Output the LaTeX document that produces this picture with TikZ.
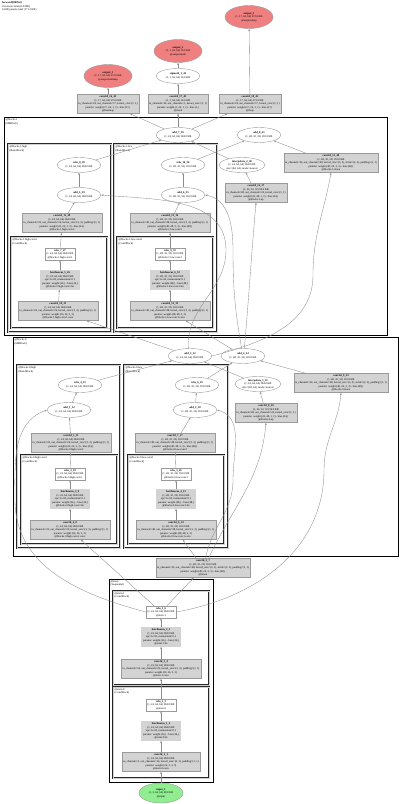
\documentclass[tikz,border=0pt]{standalone}
\usepackage{fontspec}
\setmainfont{Liberation Serif}
\usetikzlibrary{shapes.geometric, arrows.meta}

\newcommand{\netfont}{\fontsize{2.75}{3.45}\selectfont}

\begin{document}
\begin{tikzpicture}[x=1pt, y=1pt,
    every node/.style={font=\netfont, align=center},
    layer/.style={rectangle, draw=boxLine, fill=layerFill, inner sep=1.4pt},
    actbox/.style={rectangle, draw=boxLine, fill=white, inner sep=1.4pt},
    normbox/.style={rectangle, draw=boxLine, fill=layerFill, double=layerFill, double distance=.7pt, inner sep=1.4pt},
    tensor/.style={ellipse, draw=boxLine, fill=white, inner sep=.6pt, minimum width=44pt, minimum height=15pt},
    outtensor/.style={tensor, fill=outRed, minimum width=48pt, minimum height=23pt},
    intensor/.style={tensor, fill=inGreen, minimum height=20pt},
    flow/.style={draw=edgeGray, line width=.35pt, -{Stealth[length=2.4pt,width=1.7pt]}},
    stagebox/.style={draw=black, line width=.9pt},
    branchbox/.style={draw=black!85, double=gray!35, double distance=.45pt, line width=.35pt},
    clusterlabel/.style={anchor=north west, align=left, inner sep=0}]

    % Define colours
    \definecolor{layerFill}{HTML}{D3D3D3}
    \definecolor{boxLine}{HTML}{9A9A9A}
    \definecolor{edgeGray}{HTML}{8C8C8C}
    \definecolor{outRed}{HTML}{F08080}
    \definecolor{inGreen}{HTML}{90EE90}

    \useasboundingbox (0,0) rectangle (400,-804);

    % Header
    \node[clusterlabel] (header) at (2,-1.5) {\textbf{forward(HRNet)}\\45 tensors total (8.4 MB)\\43.8K params total (171.2 KB)};

    % Clusters
    \draw[stagebox] (4,-117) rectangle (387,-335);
    \draw[branchbox] (8,-144) rectangle (111,-332);
    \draw[branchbox] (11,-237) rectangle (107,-328);
    \draw[branchbox] (114,-144) rectangle (217,-332);
    \draw[branchbox] (117,-237) rectangle (213,-328);
    \draw[stagebox] (13,-337) rectangle (398,-556);
    \draw[branchbox] (17,-365) rectangle (120,-548);
    \draw[branchbox] (21,-455) rectangle (117,-544);
    \draw[branchbox] (124,-365) rectangle (228,-548);
    \draw[branchbox] (128,-455) rectangle (224,-544);
    \draw[stagebox] (109,-579) rectangle (213,-782);
    \draw[branchbox] (113,-591) rectangle (209,-685);
    \draw[branchbox] (113,-687) rectangle (209,-778);

    \node[clusterlabel] (lblB1) at (5.5,-118.5) {@blocks.1\\(HRBlock)};
    \node[clusterlabel] (lblB1high) at (9.5,-145.5) {@blocks.1.high\\(BasicBlock)};
    \node[clusterlabel] (lblB1highc) at (12.5,-238.5) {@blocks.1.high.conv1\\(ConvBlock)};
    \node[clusterlabel] (lblB1low) at (115.5,-145.5) {@blocks.1.low\\(BasicBlock)};
    \node[clusterlabel] (lblB1lowc) at (118.5,-238.5) {@blocks.1.low.conv1\\(ConvBlock)};
    \node[clusterlabel] (lblB0) at (14.5,-338.5) {@blocks.0\\(HRBlock)};
    \node[clusterlabel] (lblB0high) at (18.5,-366.5) {@blocks.0.high\\(BasicBlock)};
    \node[clusterlabel] (lblB0highc) at (22.5,-456.5) {@blocks.0.high.conv1\\(ConvBlock)};
    \node[clusterlabel] (lblB0low) at (125.5,-366.5) {@blocks.0.low\\(BasicBlock)};
    \node[clusterlabel] (lblB0lowc) at (129.5,-456.5) {@blocks.0.low.conv1\\(ConvBlock)};
    \node[clusterlabel] (lblStem) at (110.5,-580.5) {@stem\\(Sequential)};
    \node[clusterlabel] (lblStemOne) at (114.5,-592.5) {@stem.1\\(ConvBlock)};
    \node[clusterlabel] (lblStemZero) at (114.5,-688.5) {@stem.0\\(ConvBlock)};

    % Heads
    \node[outtensor] (out3) at (249,-17) {\textbf{output\_3}\\(1, 17, 64, 64) 272.0 KB\\@output.deep};
    \node[outtensor] (out2) at (178,-51) {\textbf{output\_2}\\(1, 1, 64, 64) 16.0 KB\\@output.mask};
    \node[tensor] (sig1) at (178,-76) {\textbf{sigmoid\_1\_44}\\(1, 1, 64, 64) 16.0 KB};
    \node[outtensor] (out1) at (108,-76) {\textbf{output\_1}\\(1, 17, 64, 64) 272.0 KB\\@output.heatmap};
    \node[layer] (conv16) at (108,-104) {\textbf{conv2d\_16\_42}\\(1, 17, 64, 64) 272.0 KB\\in\_channels=24, out\_channels=17, kernel\_size=(1, 1)\\params: weight (17, 24, 1, 1) - bias (17,)\\@heatmap};
    \node[layer] (conv17) at (178,-104) {\textbf{conv2d\_17\_43}\\(1, 1, 64, 64) 16.0 KB\\in\_channels=24, out\_channels=1, kernel\_size=(1, 1)\\params: weight (1, 24, 1, 1) - bias (1,)\\@mask};
    \node[layer] (conv18) at (250,-104) {\textbf{conv2d\_18\_45}\\(1, 17, 64, 64) 272.0 KB\\in\_channels=24, out\_channels=17, kernel\_size=(1, 1)\\params: weight (17, 24, 1, 1) - bias (17,)\\@deep};

    % Blocks.1 fuse
    \node[tensor] (add7) at (178,-135) {\textbf{add\_7\_39}\\(1, 24, 64, 64) 384.0 KB};
    \node[tensor] (add8) at (259,-135) {\textbf{add\_8\_41}\\(1, 48, 32, 32) 192.0 KB};
    \node[tensor] (interp2) at (242,-165) {\textbf{interpolate\_2\_38}\\(1, 24, 64, 64) 384.0 KB\\size=(64, 64), mode=nearest};
    \node[layer] (conv14) at (256,-193) {\textbf{conv2d\_14\_37}\\(1, 24, 32, 32) 96.0 KB\\in\_channels=48, out\_channels=24, kernel\_size=(1, 1)\\params: weight (24, 48, 1, 1) - bias (24,)\\@blocks.1.up};
    \node[layer] (conv15) at (331,-163) {\textbf{conv2d\_15\_40}\\(1, 48, 32, 32) 192.0 KB\\in\_channels=24, out\_channels=48, kernel\_size=(3, 3), stride=(2, 2), padding=(1, 1)\\params: weight (48, 24, 3, 3) - bias (48,)\\@blocks.1.down};

    % Blocks.1 high
    \node[tensor] (relu8) at (79,-165) {\textbf{relu\_8\_30}\\(1, 24, 64, 64) 384.0 KB};
    \node[tensor] (add5) at (79,-195) {\textbf{add\_5\_29}\\(1, 24, 64, 64) 384.0 KB};
    \node[layer] (conv11) at (62,-223) {\textbf{conv2d\_11\_28}\\(1, 24, 64, 64) 384.0 KB\\in\_channels=24, out\_channels=24, kernel\_size=(3, 3), padding=(1, 1)\\params: weight (24, 24, 3, 3) - bias (24,)\\@blocks.1.high.conv2};
    \node[actbox] (relu7) at (60,-254) {\textbf{relu\_7\_27}\\(1, 24, 64, 64) 384.0 KB\\@blocks.1.high.conv1};
    \node[normbox] (bn5) at (60,-280) {\textbf{batchnorm\_5\_26}\\(1, 24, 64, 64) 384.0 KB\\eps=1e-05, momentum=0.1\\params: weight (24,) - bias (24,)\\@blocks.1.high.conv1.bn};
    \node[layer] (conv10) at (58,-311) {\textbf{conv2d\_10\_25}\\(1, 24, 64, 64) 384.0 KB\\in\_channels=24, out\_channels=24, kernel\_size=(3, 3), padding=(1, 1)\\params: weight (24, 24, 3, 3)\\@blocks.1.high.conv1.conv};

    % Blocks.1 low
    \node[tensor] (relu10) at (183,-165) {\textbf{relu\_10\_36}\\(1, 48, 32, 32) 192.0 KB};
    \node[tensor] (add6) at (183,-195) {\textbf{add\_6\_35}\\(1, 48, 32, 32) 192.0 KB};
    \node[layer] (conv13) at (170,-223) {\textbf{conv2d\_13\_34}\\(1, 48, 32, 32) 192.0 KB\\in\_channels=48, out\_channels=48, kernel\_size=(3, 3), padding=(1, 1)\\params: weight (48, 48, 3, 3) - bias (48,)\\@blocks.1.low.conv2};
    \node[actbox] (relu9) at (170,-254) {\textbf{relu\_9\_33}\\(1, 48, 32, 32) 192.0 KB\\@blocks.1.low.conv1};
    \node[normbox] (bn6) at (170,-280) {\textbf{batchnorm\_6\_32}\\(1, 48, 32, 32) 192.0 KB\\eps=1e-05, momentum=0.1\\params: weight (48,) - bias (48,)\\@blocks.1.low.conv1.bn};
    \node[layer] (conv12) at (170,-311) {\textbf{conv2d\_12\_31}\\(1, 48, 32, 32) 192.0 KB\\in\_channels=48, out\_channels=48, kernel\_size=(3, 3), padding=(1, 1)\\params: weight (48, 48, 3, 3)\\@blocks.1.low.conv1.conv};

    % Blocks.0 fuse
    \node[tensor] (add3) at (190,-356) {\textbf{add\_3\_22}\\(1, 24, 64, 64) 384.0 KB};
    \node[tensor] (add4) at (243,-356) {\textbf{add\_4\_24}\\(1, 48, 32, 32) 192.0 KB};
    \node[tensor] (interp1) at (258,-384) {\textbf{interpolate\_1\_21}\\(1, 24, 64, 64) 384.0 KB\\size=(64, 64), mode=nearest};
    \node[layer] (conv9) at (341,-383) {\textbf{conv2d\_9\_23}\\(1, 48, 32, 32) 192.0 KB\\in\_channels=24, out\_channels=48, kernel\_size=(3, 3), stride=(2, 2), padding=(1, 1)\\params: weight (48, 24, 3, 3) - bias (48,)\\@blocks.0.down};
    \node[layer] (conv8) at (266,-413) {\textbf{conv2d\_8\_20}\\(1, 24, 32, 32) 96.0 KB\\in\_channels=48, out\_channels=24, kernel\_size=(1, 1)\\params: weight (24, 48, 1, 1) - bias (24,)\\@blocks.0.up};

    % Blocks.0 high
    \node[tensor] (relu4) at (80,-385) {\textbf{relu\_4\_13}\\(1, 24, 64, 64) 384.0 KB};
    \node[tensor] (add1) at (69,-410) {\textbf{add\_1\_12}\\(1, 24, 64, 64) 384.0 KB};
    \node[layer] (conv5) at (71,-443) {\textbf{conv2d\_5\_11}\\(1, 24, 64, 64) 384.0 KB\\in\_channels=24, out\_channels=24, kernel\_size=(3, 3), padding=(1, 1)\\params: weight (24, 24, 3, 3) - bias (24,)\\@blocks.0.high.conv2};
    \node[actbox] (relu3) at (70,-474) {\textbf{relu\_3\_10}\\(1, 24, 64, 64) 384.0 KB\\@blocks.0.high.conv1};
    \node[normbox] (bn3) at (70,-499) {\textbf{batchnorm\_3\_9}\\(1, 24, 64, 64) 384.0 KB\\eps=1e-05, momentum=0.1\\params: weight (24,) - bias (24,)\\@blocks.0.high.conv1.bn};
    \node[layer] (conv4) at (70,-530) {\textbf{conv2d\_4\_8}\\(1, 24, 64, 64) 384.0 KB\\in\_channels=24, out\_channels=24, kernel\_size=(3, 3), padding=(1, 1)\\params: weight (24, 24, 3, 3)\\@blocks.0.high.conv1.conv};

    % Blocks.0 low
    \node[tensor] (relu6) at (197,-385) {\textbf{relu\_6\_19}\\(1, 48, 32, 32) 192.0 KB};
    \node[tensor] (add2) at (195,-410) {\textbf{add\_2\_18}\\(1, 48, 32, 32) 192.0 KB};
    \node[layer] (conv7) at (175,-443) {\textbf{conv2d\_7\_17}\\(1, 48, 32, 32) 192.0 KB\\in\_channels=48, out\_channels=48, kernel\_size=(3, 3), padding=(1, 1)\\params: weight (48, 48, 3, 3) - bias (48,)\\@blocks.0.low.conv2};
    \node[actbox] (relu5) at (176,-474) {\textbf{relu\_5\_16}\\(1, 48, 32, 32) 192.0 KB\\@blocks.0.low.conv1};
    \node[normbox] (bn4) at (176,-499) {\textbf{batchnorm\_4\_15}\\(1, 48, 32, 32) 192.0 KB\\eps=1e-05, momentum=0.1\\params: weight (48,) - bias (48,)\\@blocks.0.low.conv1.bn};
    \node[layer] (conv6) at (176,-530) {\textbf{conv2d\_6\_14}\\(1, 48, 32, 32) 192.0 KB\\in\_channels=48, out\_channels=48, kernel\_size=(3, 3), padding=(1, 1)\\params: weight (48, 48, 3, 3)\\@blocks.0.low.conv1.conv};

    % Stem
    \node[layer] (conv3) at (203,-568) {\textbf{conv2d\_3\_7}\\(1, 48, 32, 32) 192.0 KB\\in\_channels=24, out\_channels=48, kernel\_size=(3, 3), stride=(2, 2), padding=(1, 1)\\params: weight (48, 24, 3, 3) - bias (48,)\\@down};
    \node[actbox] (relu2) at (161,-612) {\textbf{relu\_2\_6}\\(1, 24, 64, 64) 384.0 KB\\@stem.1};
    \node[normbox] (bn2) at (161,-637) {\textbf{batchnorm\_2\_5}\\(1, 24, 64, 64) 384.0 KB\\eps=1e-05, momentum=0.1\\params: weight (24,) - bias (24,)\\@stem.1.bn};
    \node[layer] (conv2) at (161,-669) {\textbf{conv2d\_2\_4}\\(1, 24, 64, 64) 384.0 KB\\in\_channels=24, out\_channels=24, kernel\_size=(3, 3), padding=(1, 1)\\params: weight (24, 24, 3, 3)\\@stem.1.conv};
    \node[actbox] (relu1) at (161,-705) {\textbf{relu\_1\_3}\\(1, 24, 64, 64) 384.0 KB\\@stem.0};
    \node[normbox] (bn1) at (161,-731) {\textbf{batchnorm\_1\_2}\\(1, 24, 64, 64) 384.0 KB\\eps=1e-05, momentum=0.1\\params: weight (24,) - bias (24,)\\@stem.0.bn};
    \node[layer] (conv1) at (161,-762) {\textbf{conv2d\_1\_1}\\(1, 24, 64, 64) 384.0 KB\\in\_channels=3, out\_channels=24, kernel\_size=(3, 3), padding=(1, 1)\\params: weight (24, 3, 3, 3)\\@stem.0.conv};
    \node[intensor] (in1) at (161,-793) {\textbf{input\_1}\\(1, 3, 64, 64) 48.0 KB\\@input};

    % Stem edges
    \draw[flow] (in1) -- (conv1);
    \draw[flow] (conv1) -- (bn1);
    \draw[flow] (bn1) -- (relu1);
    \draw[flow] (relu1) -- (conv2);
    \draw[flow] (conv2) -- (bn2);
    \draw[flow] (bn2) -- (relu2);
    \draw[flow] (relu2) -- (conv3);
    \draw[flow] (relu2) -- (conv4);
    \draw[flow] (relu2.west) to[out=165,in=-90] (15,-500) to[out=90,in=200] (add1.west);
    \draw[flow] (relu2.east) to[out=10,in=-90] (324,-470) to[out=90,in=-95] (conv9.south);

    % Blocks.0 edges
    \draw[flow] (conv4) -- (bn3);
    \draw[flow] (bn3) -- (relu3);
    \draw[flow] (relu3) -- (conv5);
    \draw[flow] (conv5) -- (add1);
    \draw[flow] (add1) -- (relu4);
    \draw[flow] (conv3) -- (conv6);
    \draw[flow] (conv6) -- (bn4);
    \draw[flow] (bn4) -- (relu5);
    \draw[flow] (relu5) -- (conv7);
    \draw[flow] (conv7) -- (add2);
    \draw[flow] (add2) -- (relu6);
    \draw[flow] (conv3.75) to[out=80,in=-90] (233,-480) to[out=90,in=-15] (add2.east);
    \draw[flow] (conv3.60) to[out=65,in=-95] (conv8.south);
    \draw[flow] (conv8) -- (interp1);
    \draw[flow] (interp1) -- (add3);
    \draw[flow] (relu4) -- (add3);
    \draw[flow] (relu6) -- (add4);
    \draw[flow] (conv9) -- (add4);

    % Blocks.1 edges
    \draw[flow] (add3) -- (conv10);
    \draw[flow] (add3.100) to[out=95,in=-90] (226,-250) to[out=90,in=-5] (add5.east);
    \draw[flow] (add3.east) to[out=15,in=-90] (313,-275) to[out=90,in=-100] (conv15.south);
    \draw[flow] (add4) -- (conv12);
    \draw[flow] (add4.100) to[out=100,in=-90] (233,-250) to[out=90,in=-10] (add6.east);
    \draw[flow] (add4.80) to[out=85,in=-95] (conv14.south);
    \draw[flow] (conv10) -- (bn5);
    \draw[flow] (bn5) -- (relu7);
    \draw[flow] (relu7) -- (conv11);
    \draw[flow] (conv11) -- (add5);
    \draw[flow] (add5) -- (relu8);
    \draw[flow] (conv12) -- (bn6);
    \draw[flow] (bn6) -- (relu9);
    \draw[flow] (relu9) -- (conv13);
    \draw[flow] (conv13) -- (add6);
    \draw[flow] (add6) -- (relu10);
    \draw[flow] (conv14) -- (interp2);
    \draw[flow] (interp2) -- (add7);
    \draw[flow] (relu8) -- (add7);
    \draw[flow] (relu10) -- (add8);
    \draw[flow] (conv15) -- (add8);

    % Head edges
    \draw[flow] (add7) -- (conv16);
    \draw[flow] (add7) -- (conv17);
    \draw[flow] (add7) -- (conv18);
    \draw[flow] (conv16) -- (out1);
    \draw[flow] (conv17) -- (sig1);
    \draw[flow] (sig1) -- (out2);
    \draw[flow] (conv18) -- (out3);

\end{tikzpicture}
\end{document}
